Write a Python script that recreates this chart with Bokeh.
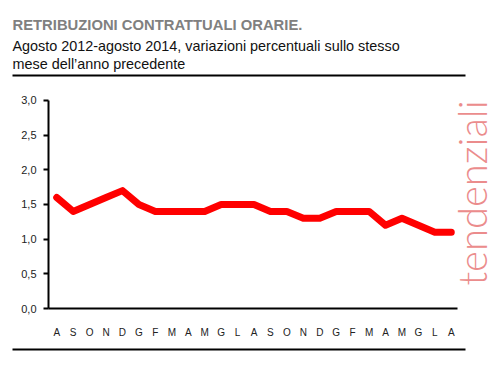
from bokeh.plotting import figure
from bokeh.models import Label, FixedTicker, Range1d
from bokeh.layouts import column
from bokeh.core.properties import value
from bokeh.embed import file_html
from bokeh.resources import INLINE

months = ["A", "S", "O", "N", "D", "G", "F", "M", "A", "M", "G", "L",
          "A", "S", "O", "N", "D", "G", "F", "M", "A", "M", "G", "L", "A"]
values = [1.6, 1.4, 1.5, 1.6, 1.7, 1.5, 1.4, 1.4, 1.4, 1.4, 1.5, 1.5,
          1.5, 1.4, 1.4, 1.3, 1.3, 1.4, 1.4, 1.4, 1.2, 1.3, 1.2, 1.1, 1.1]
y_ticks = [0.0, 0.5, 1.0, 1.5, 2.0, 2.5, 3.0]
title = "RETRIBUZIONI CONTRATTUALI ORARIE."
subtitle1 = "Agosto 2012-agosto 2014, variazioni percentuali sullo stesso"
subtitle2 = "mese dell\u2019anno precedente"
side_text = "tendenziali"

xs = list(range(len(values)))
W = 500
SANS = "Liberation Sans"


def blank(fig):
    fig.outline_line_color = None
    fig.xgrid.visible = False
    fig.ygrid.visible = False
    fig.background_fill_color = "white"
    fig.border_fill_color = "white"


# ---------- header ----------
HH = 80
head = figure(width=W, height=HH, output_backend="svg", toolbar_location=None,
              x_range=Range1d(0, W), y_range=Range1d(HH, 0), frame_align=False,
              x_axis_location=None, y_axis_location=None, min_border=0)
blank(head)
head.text(x=[12], y=[24], text=[title], text_font=value(SANS), text_font_style="bold",
          text_font_size="14.8px", text_color="#808080", text_baseline="alphabetic")
head.text(x=[12, 12], y=[45, 63], text=[subtitle1, subtitle2], text_font=value(SANS),
          text_font_size="14.4px", text_color="#111111", text_baseline="alphabetic")
head.segment(x0=[12], y0=[75], x1=[465], y1=[75], line_color="black", line_width=2)

# ---------- main chart ----------
MH = 260          # covers page y 80..340
fl, ft, fb, fr = 48, 15, 230, 500   # frame edges in local pixels
x0 = -0.5
sx = 411 / 25.0   # pixels per month
x1 = x0 + (fr - fl) / sx
sy = 70.0         # pixels per 1.0
y1 = (fb - ft) / sy

p = figure(width=W, height=MH, output_backend="svg", toolbar_location=None,
           x_range=Range1d(x0, x1), y_range=Range1d(0, y1), frame_align=False,
           min_border_left=fl, min_border_right=W - fr,
           min_border_top=ft, min_border_bottom=MH - fb)
blank(p)

p.line(xs, values, line_color="#ff0000", line_width=7, line_join="round", line_cap="round")

p.xaxis.ticker = FixedTicker(ticks=xs)
p.xaxis.bounds = (x0, 24.4)
p.xaxis.major_label_overrides = {i: m for i, m in enumerate(months)}
p.xaxis.major_tick_line_color = None
p.xaxis.minor_tick_line_color = None
p.xaxis.axis_line_width = 2
p.xaxis.axis_line_color = "black"
p.xaxis.major_label_text_font = SANS
p.xaxis.major_label_text_font_size = "10px"
p.xaxis.major_label_text_color = "#222222"
p.xaxis.major_label_standoff = 12

p.yaxis.ticker = FixedTicker(ticks=y_ticks)
p.yaxis.bounds = (0, 3.0)
p.yaxis.major_label_overrides = {t: f"{t:.1f}".replace(".", ",") for t in y_ticks}
p.yaxis.major_tick_out = 5
p.yaxis.major_tick_in = 0
p.yaxis.major_tick_line_width = 2
p.yaxis.minor_tick_line_color = None
p.yaxis.axis_line_width = 2
p.yaxis.axis_line_color = "black"
p.yaxis.major_label_text_font = SANS
p.yaxis.major_label_text_font_size = "11px"
p.yaxis.major_label_text_color = "#222222"
p.yaxis.major_label_standoff = 7

p.add_layout(Label(x=x0 + (471 - fl) / sx, y=3.0, text=side_text, angle=1.5708,
                   text_align="right", text_baseline="alphabetic",
                   text_font="Lato Light", text_font_size="40px", text_color="#eb8c8c"))

# ---------- footer ----------
FH = 27
foot = figure(width=W, height=FH, output_backend="svg", toolbar_location=None,
              x_range=Range1d(0, W), y_range=Range1d(FH, 0), frame_align=False,
              x_axis_location=None, y_axis_location=None, min_border=0)
blank(foot)
foot.segment(x0=[12], y0=[9], x1=[465], y1=[9], line_color="black", line_width=2)

layout = column(head, p, foot, spacing=0)
open("out.html", "w").write(file_html(layout, INLINE))
